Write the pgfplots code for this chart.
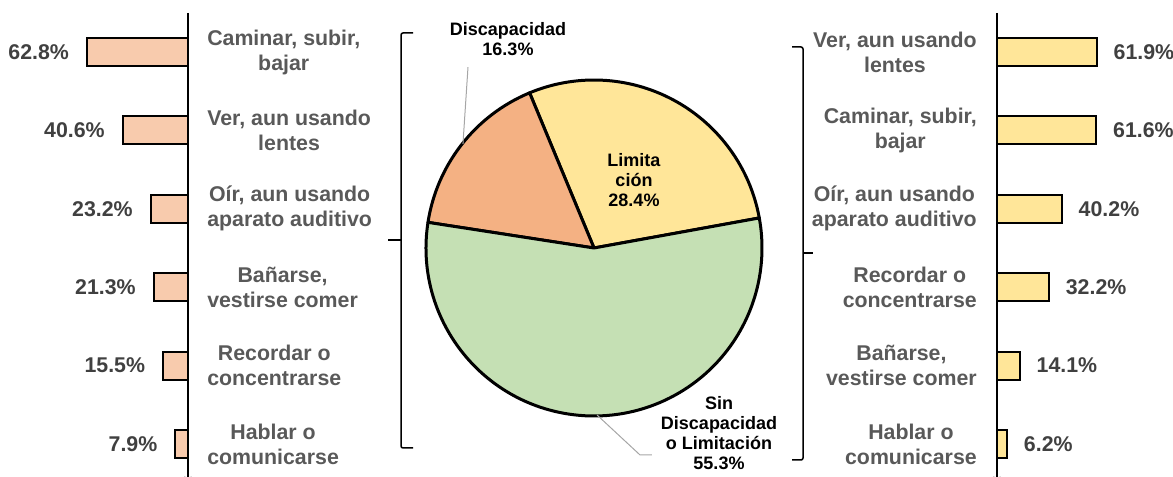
\documentclass[border=0pt]{standalone}
\usepackage{pgfplots}
\pgfplotsset{compat=1.18}
\usepackage{pgfplotstable}
\usepackage{fontspec}
\setmainfont{Liberation Sans}

\definecolor{peach}{HTML}{F8CBAD}
\definecolor{gold}{HTML}{FFE699}
\definecolor{pieor}{HTML}{F4B183}
\definecolor{piegr}{HTML}{C5E0B4}
\definecolor{catgray}{HTML}{595959}
\definecolor{valgray}{HTML}{404040}
\definecolor{leader}{HTML}{A6A6A6}

\pgfplotstableread{
pos v
1 62.8
2 40.6
3 23.2
4 21.3
5 15.5
6 7.9
}\leftdata

\pgfplotstableread{
pos v
1 61.9
2 61.6
3 40.2
4 32.2
5 14.1
6 6.2
}\rightdata

% pie shares (percent)
\def\pieLim{28.4}
\def\pieDis{16.3}
\def\pieSin{55.3}
\def\pieStart{10.3}

\pgfplotsset{barbase/.style={
  xbar, scale only axis, y dir=reverse, ymin=0.5, ymax=6.5, height=352.8pt,
  axis x line=none, ytick={1,...,6}, major tick length=0pt, ytick style={draw=none},
  axis line style={-, line width=1.2pt},
  bar width=21pt, clip=false,
  yticklabel style={align=center, font=\fontsize{16}{18.75}\selectfont\bfseries, text=catgray, inner sep=0pt},
  /pgf/number format/assume math mode=true,
  nodes near coords style={font=\fontsize{16}{19}\selectfont\bfseries, text=valgray, inner sep=0pt},
}}

\begin{document}
\begin{tikzpicture}
\useasboundingbox (0,0) rectangle (879.75pt,357.75pt);

% left bars
\begin{axis}[barbase, at={(7.5pt,-4.65pt)}, anchor=south west, width=133.5pt,
  xmin=-110.6, xmax=0, axis y line=right,
  yticklabel style={anchor=west, xshift=14.25pt},
  yticklabels={{Caminar, subir,\\bajar},{Ver, aun usando\\lentes},{Oír, aun usando\\aparato auditivo},{Bañarse,\\vestirse comer},{Recordar o\\concentrarse},{Hablar o\\comunicarse}},
  point meta=explicit,
  nodes near coords={\pgfmathprintnumber[fixed,fixed zerofill,precision=1]{\pgfplotspointmeta}\%},
  nodes near coords style={anchor=east, xshift=-12.75pt}]
\addplot[draw=black, line width=1.5pt, fill=peach] table[x expr=-\thisrow{v}, y=pos, meta=v]{\leftdata};
\end{axis}

% right bars
\begin{axis}[barbase, at={(747.75pt,-4.65pt)}, anchor=south west, width=132pt,
  xmin=0, xmax=109.3, axis y line=left,
  yticklabel style={anchor=east, xshift=-15pt},
  yticklabels={{Ver, aun usando\\lentes},{Caminar, subir,\\bajar},{Oír, aun usando\\aparato auditivo},{Recordar o\\concentrarse},{Bañarse,\\vestirse comer},{Hablar o\\comunicarse}},
  nodes near coords={\pgfmathprintnumber[fixed,fixed zerofill,precision=1]{\pgfplotspointmeta}\%},
  nodes near coords style={anchor=west, xshift=12pt}]
\addplot[draw=black, line width=1.5pt, fill=gold] table[x=v, y=pos]{\rightdata};
\end{axis}

% pie
\pgfmathsetmacro{\aA}{\pieStart}
\pgfmathsetmacro{\aB}{\aA+3.6*\pieLim}
\pgfmathsetmacro{\aC}{\aB+3.6*\pieDis}
\pgfmathsetmacro{\aD}{\aC+3.6*\pieSin}
\begin{axis}[at={(445.5pt,171.75pt)}, anchor=center, scale only axis, width=252pt, height=252pt,
  xmin=-1, xmax=1, ymin=-1, ymax=1, hide axis, clip=false]
\filldraw[fill=gold, draw=black, line width=2.25pt, line join=round] (axis cs:0,0) -- (axis cs:{cos(\aA)},{sin(\aA)}) arc[start angle=\aA, end angle=\aB, radius=126pt] -- cycle;
\filldraw[fill=pieor, draw=black, line width=2.25pt, line join=round] (axis cs:0,0) -- (axis cs:{cos(\aB)},{sin(\aB)}) arc[start angle=\aB, end angle=\aC, radius=126pt] -- cycle;
\filldraw[fill=piegr, draw=black, line width=2.25pt, line join=round] (axis cs:0,0) -- (axis cs:{cos(\aC)},{sin(\aC)}) arc[start angle=\aC, end angle=\aD, radius=126pt] -- cycle;
\draw[leader, line width=0.75pt] (axis cs:-0.75,1.077) -- (axis cs:-0.78,0.62);
\draw[leader, line width=0.75pt] (axis cs:0.018,-0.994) -- (axis cs:0.274,-1.232) -- (axis cs:0.345,-1.232);
\node[align=center, font=\fontsize{13.5}{15}\selectfont\bfseries] at (axis cs:0.238,0.405) {Limita\\ción\\28.4\%};
\node[align=center, font=\fontsize{13.5}{15}\selectfont\bfseries] at (axis cs:-0.512,1.244) {Discapacidad\\16.3\%};
\node[align=center, font=\fontsize{13.5}{15}\selectfont\bfseries] at (axis cs:0.744,-1.101) {Sin\\Discapacidad\\o Limitación\\55.3\%};
\end{axis}

% braces
\begin{scope}[x=0.75pt, y=0.75pt, line width=1.125pt, rounded corners=1.5pt]
\draw (413,444) -- (401,444) -- (401,29) -- (413,29);
\draw (401,237) -- (388,237);
\draw (792,430) -- (803,430) -- (803,17) -- (792,17);
\draw (803,224) -- (813,224);
\end{scope}
\end{tikzpicture}
\end{document}
